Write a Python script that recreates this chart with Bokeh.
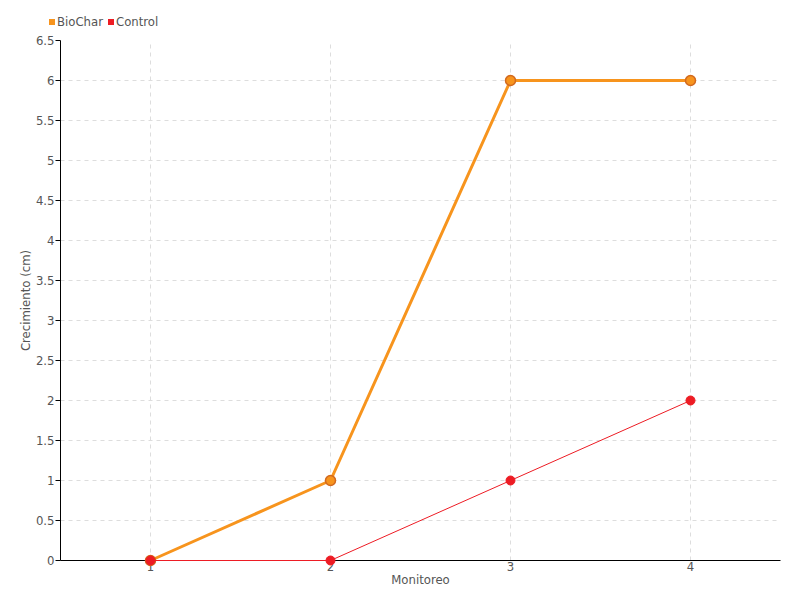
from bokeh.plotting import figure
from bokeh.layouts import column
from bokeh.models import FixedTicker, Range1d, Div
from bokeh.embed import file_html
from bokeh.resources import INLINE

monitoreo = [1, 2, 3, 4]
biochar = [0, 1, 6, 6]
control = [0, 0, 1, 2]
series_names = ["BioChar", "Control"]
y_ticks = [0, 0.5, 1, 1.5, 2, 2.5, 3, 3.5, 4, 4.5, 5, 5.5, 6, 6.5]
y_tick_labels = ["0", "0.5", "1", "1.5", "2", "2.5", "3", "3.5", "4", "4.5", "5", "5.5", "6", "6.5"]

FONT = "DejaVu Sans Condensed"
TXT = "#555555"
ORANGE = "#F7941D"
RED = "#ED1C24"
series_colors = [ORANGE, RED]

# ---- main chart ----
p = figure(width=800, height=568, output_backend="svg", toolbar_location=None,
           x_range=Range1d(0.5, 4.5), y_range=Range1d(0, 6.5),
           min_border_left=60, min_border_right=20, min_border_top=8, min_border_bottom=40)
p.outline_line_color = None
p.background_fill_color = "white"

for g in (p.xgrid[0], p.ygrid[0]):
    g.grid_line_color = "#dddddd"
    g.grid_line_dash = "4 4"
    g.grid_line_width = 1

p.xaxis.ticker = FixedTicker(ticks=monitoreo)
p.xaxis.major_label_overrides = {m: str(m) for m in monitoreo}
p.yaxis.ticker = FixedTicker(ticks=y_ticks)
p.yaxis.major_label_overrides = {t: l for t, l in zip(y_ticks, y_tick_labels)}

for ax in (p.xaxis[0], p.yaxis[0]):
    ax.axis_line_color = "black"
    ax.axis_line_width = 1
    ax.minor_tick_line_color = None
    ax.major_label_text_font = FONT
    ax.major_label_text_font_size = "13px"
    ax.major_label_text_color = TXT
    ax.axis_label_text_font = FONT
    ax.axis_label_text_font_size = "13px"
    ax.axis_label_text_font_style = "normal"
    ax.axis_label_text_color = TXT

p.xaxis.major_tick_line_color = None
p.xaxis.major_tick_out = 0
p.xaxis.major_tick_in = 0
p.xaxis.major_label_standoff = 1
p.xaxis.axis_label = "Monitoreo"
p.xaxis.axis_label_standoff = -2
p.yaxis.major_tick_line_color = "black"
p.yaxis.major_tick_out = 5
p.yaxis.major_tick_in = 0
p.yaxis.major_label_standoff = 1
p.yaxis.axis_label = "Crecimiento (cm)"
p.yaxis.axis_label_standoff = 0

p.line(monitoreo, biochar, line_color=ORANGE, line_width=3, level="overlay")
p.scatter(monitoreo, biochar, size=10, fill_color=ORANGE, line_color="#D2691E", line_width=1.5, level="overlay")
p.line(monitoreo, control, line_color=RED, line_width=1, level="overlay")
p.scatter(monitoreo, control, size=9, fill_color=RED, line_color=RED, level="overlay")

# ---- legend strip (HTML text) ----
items_html = "".join(
    f'<span style="display:inline-block;width:6px;height:6px;background:{c};'
    f'margin:0 2px 1px 0;vertical-align:middle;"></span>'
    f'<span style="margin-right:5px;">{n}</span>'
    for n, c in zip(series_names, series_colors)
)
legend_div = Div(
    text=(f'<div style="padding:14px 0 0 49px;font-family:\'{FONT}\';font-size:13px;'
          f'line-height:15px;color:{TXT};white-space:nowrap;">{items_html}</div>'),
    width=800, height=32, margin=0,
)

layout = column(legend_div, p, spacing=0)
open("out.html", "w").write(file_html(layout, INLINE))
